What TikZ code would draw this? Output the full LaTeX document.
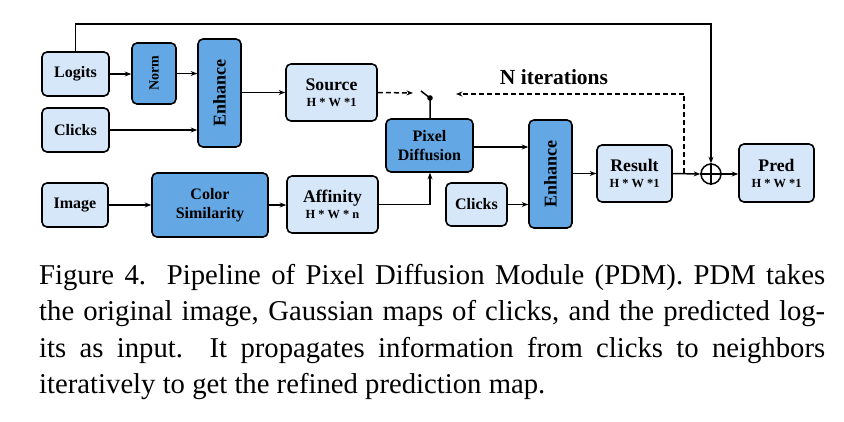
\documentclass[tikz,border=0pt]{standalone}
\usepackage{fontspec}
\setmainfont{Liberation Serif}
\usepackage{graphicx}
\usetikzlibrary{arrows.meta,calc,positioning}
\definecolor{lightblk}{RGB}{214,231,250}
\definecolor{darkblk}{RGB}{99,167,228}
\newcommand{\dimtxt}[1]{{\fontsize{12.4}{14}\selectfont #1}}

\begin{document}
\begin{tikzpicture}[x=1pt,y=-1pt,
    blk/.style={draw, line width=1.6pt, rounded corners=5pt, inner sep=0pt, align=center,
        font=\bfseries\fontsize{16}{19}\selectfont},
    inbox/.style={blk, fill=lightblk},
    opbox/.style={blk, fill=darkblk},
    bigtxt/.style={font=\bfseries\fontsize{17.7}{16}\selectfont},
    arr/.style={line width=1.5pt, -{Stealth[length=6.5pt,width=5pt]}},
    dsh/.style={dash pattern=on 5pt off 3pt}]
\useasboundingbox (0,0) rectangle (844,422);

% inputs
\node[inbox, minimum width=67, minimum height=44] (logits) at (75.5,74) {Logits};
\node[inbox, minimum width=67, minimum height=44] (clicksA) at (75.5,130) {Clicks};
\node[inbox, minimum width=66, minimum height=44] (image) at (75,205) {Image};

% upper branch
\node[opbox, minimum width=44, minimum height=61] (norm) at (154,73.5)
    {\rotatebox{90}{\fontsize{14}{16}\selectfont Norm}};
\node[opbox, minimum width=43, minimum height=108] (enhA) at (219.5,93)
    {\rotatebox{90}{\fontsize{18}{20}\selectfont Enhance}};
\node[inbox, bigtxt, minimum width=91, minimum height=57] (source) at (331.5,92.5)
    {Source\\\dimtxt{H * W *1}};

% lower branch
\node[opbox, minimum width=116, minimum height=64] (colsim) at (210,205) {Color\\Similarity};
\node[inbox, bigtxt, minimum width=91, minimum height=57] (affin) at (332.5,204.5)
    {Affinity\\\dimtxt{H * W * n}};
\node[opbox, minimum width=87, minimum height=53] (pixdiff) at (429.5,145.5) {Pixel\\Diffusion};
\node[inbox, minimum width=61, minimum height=43] (clicksB) at (476.5,204.5) {Clicks};
\node[opbox, minimum width=43, minimum height=108] (enhB) at (550.5,174)
    {\rotatebox{90}{\fontsize{18}{20}\selectfont Enhance}};
\node[inbox, bigtxt, minimum width=75, minimum height=57] (result) at (634.5,173.5)
    {Result\\\dimtxt{H * W *1}};
\node[draw, circle, line width=1.5pt, minimum size=20, inner sep=0pt] (oplus) at (711,174) {};
\node[inbox, bigtxt, minimum width=75, minimum height=58] (pred) at (776.5,173)
    {Pred\\\dimtxt{H * W *1}};

\node[font=\bfseries\fontsize{21.5}{24}\selectfont] (iter) at (554,77) {N iterations};

% switch
\coordinate (swin) at (413,93);
\coordinate (swA) at (421,91);
\coordinate (swB) at (430,98);
\coordinate (swout) at (456,94);
\coordinate (loopA) at (684,173.5);
\coordinate (topline) at (400,24);

\draw[line width=1.5pt] (oplus.north) -- (oplus.south) (oplus.west) -- (oplus.east);

\draw[arr] (logits.east) -- (logits.east -| norm.west);
\draw[arr] (norm.east) -- (norm.east -| enhA.west);
\draw[arr] (clicksA.east) -- (clicksA.east -| enhA.west);
\draw[arr] (enhA.east |- source.west) -- (source.west);
\draw[arr, dsh] (source.east) -- (swin);
\draw[line width=1.5pt] (swA) -- (swB) -- (swB |- pixdiff.north);
\fill (swB) circle (2.8pt);
\draw[arr] (image.east) -- (colsim.west);
\draw[arr] (colsim.east) -- (colsim.east -| affin.west);
\draw[arr] (affin.east) -| (swB |- pixdiff.south);
\draw[arr] (pixdiff.east) ++(0,1.5) -- (enhB.west |- {(0,147)});
\draw[arr] (clicksB.east) -- (clicksB.east -| enhB.west);
\draw[arr] (enhB.east |- result.west) -- (result.west);
\draw[arr] (result.east) -- (oplus.west);
\draw[arr] (oplus.east) -- (pred.west |- oplus.east);
\draw[arr, dsh] (loopA) |- (swout);
\draw[arr] (logits.north) |- (topline) -| (oplus.north);

% caption
\node[anchor=north west, inner sep=0pt, text width=786, align=justify,
      font=\fontsize{28.7}{36.3}\selectfont] (caption) at (39,264)
    {Figure 4.\ \ Pipeline of Pixel Diffusion Module (PDM). PDM takes\linebreak
     the original image, Gaussian maps of clicks, and the predicted log-\linebreak
     its as input.\ \ It propagates information from clicks to neighbors\linebreak
     iteratively to get the refined prediction map.};
\end{tikzpicture}
\end{document}
